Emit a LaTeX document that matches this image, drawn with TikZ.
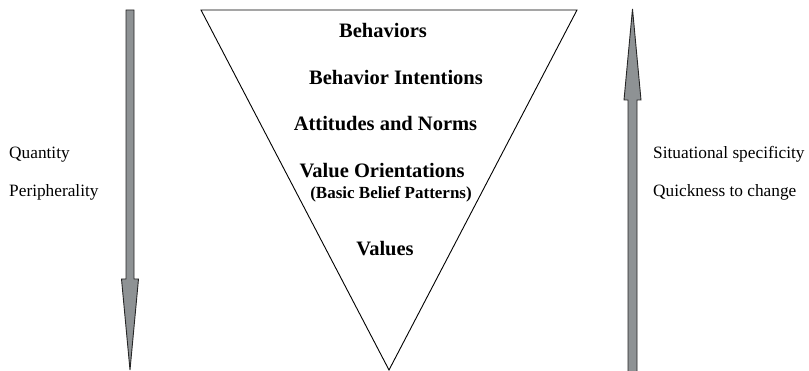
\documentclass[tikz,border=0pt]{standalone}
\usepackage{fontspec}
\setmainfont{Liberation Serif}
\definecolor{arrgray}{HTML}{8E9294}
\begin{document}
\begin{tikzpicture}[x=1pt,y=1pt,
  layer/.style={font=\fontsize{20.5}{22}\selectfont\bfseries, anchor=base, inner sep=0pt},
  sublayer/.style={font=\fontsize{17}{19}\selectfont\bfseries, anchor=base, inner sep=0pt},
  side/.style={font=\fontsize{17.3}{19}\selectfont, anchor=base west, inner sep=0pt},
  bigarrow/.style={draw=black!85, fill=arrgray, line width=0.9pt, line join=miter}]
\useasboundingbox (0,0) rectangle (809,371);
% inverted triangle
\draw[line width=0.9pt, line join=miter] (201,361) -- (577,361) -- (389,1) -- cycle;
% left down arrow
\draw[bigarrow] (126,361) -- (134,361) -- (134,92) -- (138.5,92) -- (130,1) -- (121.5,92) -- (126,92) -- cycle;
% right up arrow
\draw[bigarrow] (628,-2) -- (637,-2) -- (637,271) -- (641,271) -- (632.5,362) -- (624,271) -- (628,271) -- cycle;
% layer labels
\node[layer] (beh) at (383,333.5) {Behaviors};
\node[layer] (bint) at (396,286.5) {Behavior Intentions};
\node[layer] (att) at (385.5,240.5) {Attitudes and Norms};
\node[layer] (vor) at (382,193.5) {Value Orientations};
\node[sublayer] (bbp) at (391,172.5) {(Basic Belief Patterns)};
\node[layer] (val) at (385,115.5) {Values};
% side labels
\node[side] (qty) at (9,212) {Quantity};
\node[side] (per) at (9,174) {Peripherality};
\node[side] (sit) at (653,212) {Situational specificity};
\node[side] (quick) at (653,174) {Quickness to change};
\end{tikzpicture}
\end{document}
